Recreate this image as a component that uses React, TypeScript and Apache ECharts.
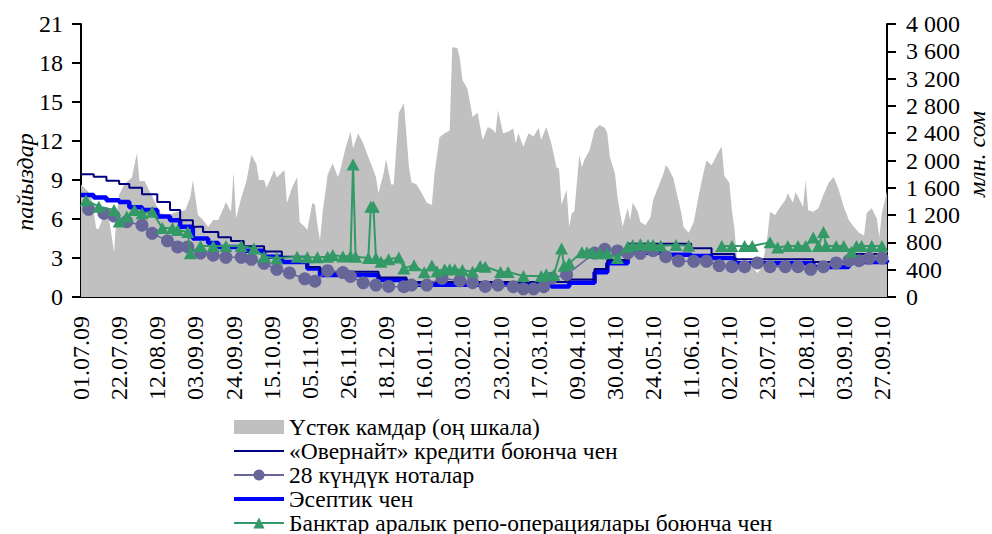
import React, { useEffect, useRef } from "react";
import * as echarts from "echarts";

// x positions are business-day indices (0 = 01.07.09); ticks every 15 business days
const tickLabels = [
  "01.07.09", "22.07.09", "12.08.09", "03.09.09", "24.09.09", "15.10.09", "05.11.09",
  "26.11.09", "18.12.09", "16.01.10", "03.02.10", "23.02.10", "17.03.10", "09.04.10",
  "30.04.10", "24.05.10", "11.06.10", "02.07.10", "23.07.10", "12.08.10", "03.09.10", "27.09.10",
];

const seriesNames = [
  "Үстөк камдар (оң шкала)",
  "«Овернайт» кредити боюнча чен",
  "28 күндүк ноталар",
  "Эсептик чен",
  "Банктар аралык репо-операциялары боюнча чен",
];

// Excess reserves, mln som (right axis)
const excessReserves: [number, number][] = [
  [0, 1650], [4, 1500], [6, 1000], [7, 1000], [9, 1200], [11, 1150], [13, 660], [14, 1200], [15, 1500],
  [17, 1650], [20, 1750], [22, 2110], [23, 1700], [25, 1700], [27, 1550], [29, 1400], [31, 1230],
  [34, 1200], [38, 1250], [41, 1270], [43, 1460], [44, 1710], [46, 1200], [48, 1130], [50, 1025],
  [52, 1130], [54, 1130], [56, 1300], [57, 1390], [59, 1250], [60, 1830], [61, 1150], [63, 1450],
  [65, 1690], [67, 2080], [69, 1950], [70, 1715], [72, 1715], [73, 1600], [76, 1860], [77, 1750],
  [80, 1860], [81, 1377], [83, 1600], [85, 1760], [86, 1100], [88, 1030], [89, 980], [91, 1380],
  [92, 1350], [93, 1050], [94, 835], [95, 1230], [97, 1790], [99, 1960], [101, 1760], [102, 1860],
  [104, 2180], [106, 2420], [107, 2180], [109, 2400], [111, 2250], [113, 2050], [115, 1860],
  [116, 1760], [117, 1520], [119, 1815], [120, 2020], [122, 1650], [123, 1650], [125, 2700],
  [127, 2840], [129, 1900], [130, 1680], [132, 1650], [134, 1520], [136, 1380], [138, 1350],
  [139, 1800], [141, 2340], [143, 2400], [145, 2440], [146, 3660], [148, 3650], [149, 3500],
  [150, 3180], [152, 3050], [154, 2640], [156, 2700], [157, 2490], [158, 2300], [160, 2490],
  [162, 2450], [163, 2400], [164, 2740], [166, 2400], [168, 2420], [170, 2470], [171, 2250],
  [172, 2400], [174, 2200], [176, 2400], [178, 2350], [180, 2480], [181, 2300], [183, 2490],
  [185, 2250], [187, 1900], [188, 1880], [189, 1350], [191, 1570], [192, 1025], [193, 1230],
  [194, 1250], [196, 2080], [197, 1900], [198, 2010], [200, 2150], [201, 2300], [202, 2450],
  [204, 2520], [206, 2480], [207, 2400], [208, 2050], [210, 1815], [211, 1465], [213, 1025],
  [215, 1300], [216, 1130], [217, 1380], [219, 1250], [220, 1100], [222, 1050], [224, 1170],
  [225, 1420], [227, 1610], [229, 1800], [230, 1930], [231, 1890], [233, 1740], [234, 1570],
  [236, 1250], [237, 1025], [239, 940], [241, 1100], [243, 1500], [245, 1850], [246, 2000],
  [248, 1930], [249, 2000], [251, 2150], [252, 2200], [253, 1780], [255, 1670], [256, 1270],
  [257, 1000], [258, 550], [261, 500], [264, 450], [266, 350], [268, 450], [270, 900], [271, 1250],
  [273, 1200], [275, 1320], [277, 1420], [278, 1520], [280, 1380], [281, 1540], [283, 1400],
  [284, 1320], [285, 1715], [286, 1270], [288, 1250], [290, 1300], [292, 1500], [294, 1670],
  [296, 1760], [298, 1580], [300, 1320], [302, 1130], [304, 1025], [306, 940], [308, 900],
  [309, 1230], [311, 1300], [313, 1150], [314, 880], [315, 1230], [317, 1550],
];

// Overnight credit rate, % (change points)
const overnightRate: [number, number][] = [
  [0, 9.45], [5, 9.25], [10, 8.95], [15, 8.7], [19, 8.4], [24, 7.9], [30, 7.3], [35, 6.7], [39, 5.9],
  [44, 5.4], [48, 5.0], [54, 4.6], [59, 4.3], [64, 3.9], [72, 3.5], [79, 3.1], [89, 2.3], [94, 1.95],
  [117, 1.5], [128, 1.15], [192, 1.35], [202, 2.15], [207, 2.85], [215, 4.1], [240, 3.75],
  [248, 3.3], [257, 2.9], [288, 2.7], [302, 3.3], [317, 3.3],
];

// Discount rate, % (change points)
const discountRate: [number, number][] = [
  [0, 7.85], [5, 7.65], [10, 7.45], [15, 7.3], [19, 6.9], [24, 6.7], [30, 6.2], [35, 5.9], [39, 5.4],
  [44, 4.5], [50, 4.15], [54, 3.85], [64, 3.55], [72, 3.1], [79, 2.7], [89, 2.2], [94, 1.7],
  [117, 1.3], [128, 0.95], [185, 0.8], [192, 1.1], [202, 1.9], [207, 2.6], [215, 3.4], [229, 3.25],
  [240, 3.15], [248, 3.0], [257, 2.6], [288, 2.3], [302, 2.7], [317, 2.85],
];

// 28-day notes yield, %
const notes28: [number, number][] = [
  [3, 6.75], [9, 6.44], [13, 6.23], [18, 5.79], [24, 5.52], [28, 4.9], [34, 4.32], [38, 3.85],
  [42, 3.85], [47, 3.38], [52, 3.22], [57, 3.05], [63, 3.05], [67, 2.9], [72, 2.59], [77, 2.13],
  [82, 1.85], [88, 1.4], [92, 1.22], [97, 2.02], [103, 1.88], [106, 1.58], [111, 1.09], [116, 0.92],
  [121, 0.81], [127, 0.79], [130, 0.92], [136, 0.92], [142, 1.44], [149, 1.25], [154, 1.1],
  [159, 0.81], [164, 0.92], [170, 0.79], [174, 0.63], [178, 0.63], [182, 0.79], [185, 1.44],
  [191, 1.72], [202, 3.38], [206, 3.67], [211, 3.54], [215, 3.37], [220, 3.36], [225, 3.56],
  [230, 3.1], [235, 2.77], [241, 2.75], [246, 2.75], [251, 2.42], [256, 2.33], [261, 2.33],
  [266, 2.62], [271, 2.33], [277, 2.33], [282, 2.33], [287, 2.13], [292, 2.33], [297, 2.62],
  [302, 2.79], [306, 2.79], [310, 2.98], [315, 3.0],
];

// Interbank repo rate, % (null = no trades)
const repoRate: [number, number | null][] = [
  [2, 7.45], [7, 6.95], [13, 6.7], [15, 5.8], [18, 6.2], [21, 6.7], [24, 6.45], [28, 6.56], [32, 5.3],
  [36, 5.3], [38, 5.15], [42, 5.0], [43, 3.36], [47, 3.92], [52, 3.92], [57, 3.92], [63, 3.92],
  [68, 3.74], [72, 3.1], [77, 2.98], [85, 3.1], [89, 3.05], [93, 3.05], [97, 3.1], [99, 3.23],
  [103, 3.12], [106, 3.15], [107, 10.2], [108, 3.1], [113, 3.0], [114, 6.95], [115, 6.95], [116, 3.0],
  [118, 2.72], [121, 2.9], [125, 3.03], [127, 2.2], [131, 2.44], [135, 1.9], [138, 2.43], [140, 1.98],
  [143, 2.13], [145, 2.13], [147, 2.13], [150, 2.08], [154, 1.95], [157, 2.38], [159, 2.33],
  [165, 1.92], [168, 1.92], [174, 1.62], [181, 1.62], [183, 1.75], [186, 1.72], [189, 3.74],
  [190, 2.4], [192, 2.59], [197, 3.45], [199, 3.45], [201, 3.41], [204, 3.36], [207, 3.36],
  [211, 3.0], [215, 3.87], [217, 4.0], [220, 4.05], [223, 4.0], [225, 4.0], [228, 3.95], [234, 4.0],
  [239, 3.95], [245, null], [252, 3.92], [256, 3.92], [261, 3.92], [264, 3.92], [271, 4.22],
  [274, 3.8], [278, 3.92], [282, 3.92], [285, 3.92], [288, 4.57], [290, 3.92], [292, 5.0],
  [293, 3.92], [297, 3.92], [300, 3.92], [303, 3.49], [305, 3.92], [307, 3.92], [311, 3.92],
  [315, 3.92],
];

const FONT = '"Liberation Serif", "Times New Roman", serif';

export default function App() {
  const ref = useRef<HTMLDivElement>(null);

  useEffect(() => {
    if (!ref.current) return;
    const chart = echarts.init(ref.current, undefined, { renderer: "svg" });
    const axisText = { fontFamily: FONT, fontSize: 24, color: "#000" };

    chart.setOption({
      animation: false,
      backgroundColor: "#fff",
      textStyle: { fontFamily: FONT },
      grid: { left: 81, right: 105, top: 24, bottom: 237, containLabel: false },
      xAxis: {
        type: "value",
        min: 0,
        max: 317,
        interval: 15,
        axisLine: { show: true, lineStyle: { color: "#000", width: 2 } },
        axisTick: { show: false },
        splitLine: { show: false },
        axisLabel: {
          ...axisText,
          rotate: 90,
          margin: 19,
          showMaxLabel: false,
          formatter: (v: number) => (v % 15 === 0 ? tickLabels[v / 15] ?? "" : ""),
        },
      },
      yAxis: [
        {
          type: "value",
          min: 0,
          max: 21,
          interval: 3,
          position: "left",
          axisLine: { show: true, lineStyle: { color: "#000", width: 2 } },
          axisTick: { show: true, length: 9, lineStyle: { color: "#000", width: 2 } },
          splitLine: { show: false },
          axisLabel: { ...axisText, margin: 18 },
        },
        {
          type: "value",
          min: 0,
          max: 4000,
          interval: 400,
          position: "right",
          axisLine: { show: true, lineStyle: { color: "#000", width: 2 } },
          axisTick: { show: true, length: 9, lineStyle: { color: "#000", width: 2 } },
          splitLine: { show: false },
          axisLabel: {
            ...axisText,
            margin: 19,
            formatter: (v: number) =>
              v >= 1000 ? `${Math.floor(v / 1000)} ${String(v % 1000).padStart(3, "0")}` : String(v),
          },
        },
      ],
      legend: {
        orient: "vertical",
        left: 232,
        top: 415,
        width: 700,
        height: 200,
        padding: 0,
        itemWidth: 50,
        itemHeight: 14,
        itemGap: 0,
        selectedMode: false,
        textStyle: { fontFamily: FONT, fontSize: 23.5, color: "#000", lineHeight: 23.5 },
        data: [
          { name: seriesNames[0], icon: "rect", itemStyle: { color: "#c0c0c0" } },
          { name: seriesNames[1], itemStyle: { opacity: 0 }, lineStyle: { width: 2 } },
          { name: seriesNames[2], lineStyle: { width: 2 } },
          { name: seriesNames[3], itemStyle: { opacity: 0 }, lineStyle: { width: 4 } },
          { name: seriesNames[4], lineStyle: { width: 2 } },
        ],
      },
      graphic: [
        {
          type: "text",
          x: 25,
          y: 182,
          rotation: Math.PI / 2,
          style: {
            text: "пайыздар",
            font: `italic 24px ${FONT}`,
            fill: "#000",
            align: "center",
            verticalAlign: "middle",
          },
        },
        {
          type: "text",
          x: 977,
          y: 154,
          rotation: Math.PI / 2,
          style: {
            text: "млн. сом",
            font: `italic 24px ${FONT}`,
            fill: "#000",
            align: "center",
            verticalAlign: "middle",
          },
        },
      ],
      series: [
        {
          name: seriesNames[0],
          type: "line",
          yAxisIndex: 1,
          data: excessReserves,
          color: "#c0c0c0",
          symbol: "none",
          lineStyle: { width: 0, color: "#c0c0c0" },
          itemStyle: { color: "#c0c0c0" },
          areaStyle: { color: "#c0c0c0", opacity: 1 },
          z: 1,
        },
        {
          name: seriesNames[3],
          type: "line",
          step: "end",
          data: discountRate,
          color: "#0000ff",
          symbol: "none",
          lineStyle: { width: 4.5, color: "#0000ff" },
          z: 2,
        },
        {
          name: seriesNames[1],
          type: "line",
          step: "end",
          data: overnightRate,
          color: "#000080",
          symbol: "none",
          lineStyle: { width: 2, color: "#000080" },
          z: 3,
        },
        {
          name: seriesNames[2],
          type: "line",
          data: notes28,
          color: "#666699",
          symbol: "circle",
          symbolSize: 13,
          lineStyle: { width: 1.5, color: "#666699" },
          itemStyle: { color: "#666699" },
          z: 4,
        },
        {
          name: seriesNames[4],
          type: "line",
          data: repoRate,
          color: "#339966",
          symbol: "triangle",
          symbolSize: [13, 12],
          connectNulls: false,
          lineStyle: { width: 2, color: "#339966" },
          itemStyle: { color: "#339966" },
          z: 5,
        },
      ],
    });

    return () => chart.dispose();
  }, []);

  return (
    <div
      ref={ref}
      style={{ position: "absolute", left: 0, top: 0, width: 992, height: 534 }}
    />
  );
}
